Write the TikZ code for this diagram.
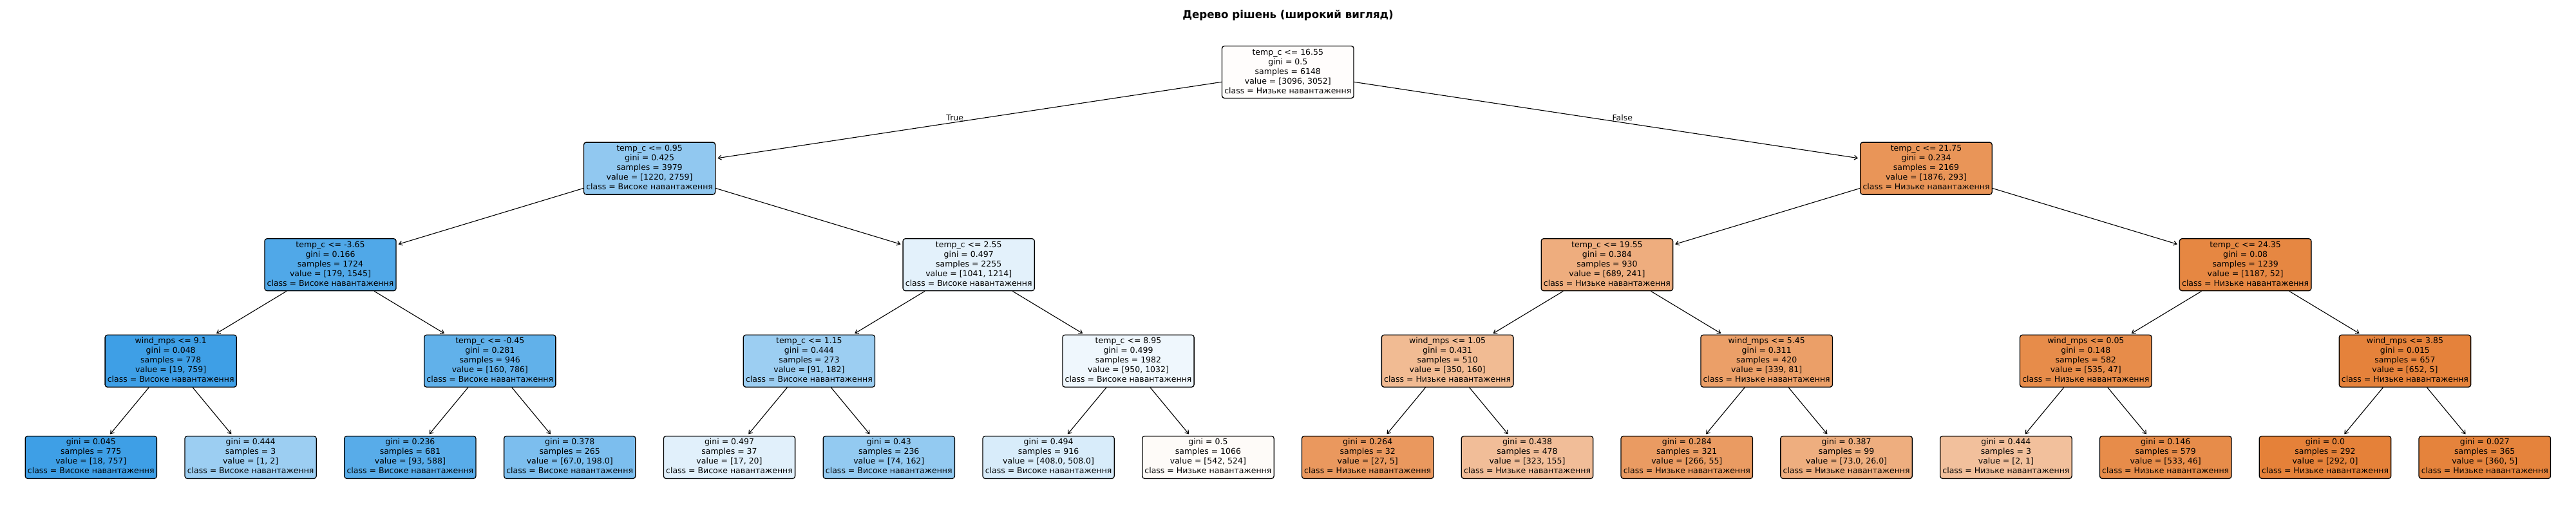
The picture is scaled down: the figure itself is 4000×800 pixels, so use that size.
\documentclass[tikz,border=0pt]{standalone}
\usepackage{fontspec}
\setmainfont{DejaVu Sans}
\usetikzlibrary{arrows.meta,calc}
\definecolor{tOr}{RGB}{229,129,57}
\definecolor{tBl}{RGB}{57,157,229}
\newcommand{\lo}{class = Низьке навантаження}
\newcommand{\hi}{class = Високе навантаження}
\tikzset{
  tnode/.style={draw=black, line width=1.3pt, rounded corners=3.75pt, align=center,
    inner xsep=3.75pt, inner ysep=3pt, font=\fontsize{12.5}{15}\selectfont},
  edge/.style={line width=1.1pt, -{Straight Barb[length=5pt,width=7pt]}, shorten >=3pt},
  tflabel/.style={font=\fontsize{12.5}{15}\selectfont, inner sep=0pt},
  ttl/.style={font=\fontsize{16.67}{20}\selectfont\bfseries, inner sep=0pt}
}
\begin{document}
\begin{tikzpicture}[x=1pt,y=-1pt]
\fill[white] (0,0) rectangle (4000,800);
\useasboundingbox (0,0) rectangle (4000,800);
\node[ttl] (title) at (2000,24) {Дерево рішень (широкий вигляд)};
% root
\node[tnode, fill=tOr!1.4!white] (n0) at (1999.8,112) {\strut temp\_c <= 16.55\\\strut gini = 0.5\\\strut samples = 6148\\\strut value = [3096, 3052]\\\strut \lo};
% level 1
\node[tnode, fill=tBl!55.8!white] (n1) at (1008.6,261.6) {\strut temp\_c <= 0.95\\\strut gini = 0.425\\\strut samples = 3979\\\strut value = [1220, 2759]\\\strut \hi};
\node[tnode, fill=tOr!84.4!white] (n2) at (2991.0,261.6) {\strut temp\_c <= 21.75\\\strut gini = 0.234\\\strut samples = 2169\\\strut value = [1876, 293]\\\strut \lo};
% level 2
\node[tnode, fill=tBl!88.4!white] (n3) at (513.0,411.2) {\strut temp\_c <= -3.65\\\strut gini = 0.166\\\strut samples = 1724\\\strut value = [179, 1545]\\\strut \hi};
\node[tnode, fill=tBl!14.3!white] (n4) at (1504.2,411.2) {\strut temp\_c <= 2.55\\\strut gini = 0.497\\\strut samples = 2255\\\strut value = [1041, 1214]\\\strut \hi};
\node[tnode, fill=tOr!65.0!white] (n5) at (2495.4,411.2) {\strut temp\_c <= 19.55\\\strut gini = 0.384\\\strut samples = 930\\\strut value = [689, 241]\\\strut \lo};
\node[tnode, fill=tOr!95.6!white] (n6) at (3486.6,411.2) {\strut temp\_c <= 24.35\\\strut gini = 0.08\\\strut samples = 1239\\\strut value = [1187, 52]\\\strut \lo};
% level 3
\node[tnode, fill=tBl!97.5!white] (n7) at (265.2,560.8) {\strut wind\_mps <= 9.1\\\strut gini = 0.048\\\strut samples = 778\\\strut value = [19, 759]\\\strut \hi};
\node[tnode, fill=tBl!79.6!white] (n8) at (760.8,560.8) {\strut temp\_c <= -0.45\\\strut gini = 0.281\\\strut samples = 946\\\strut value = [160, 786]\\\strut \hi};
\node[tnode, fill=tBl!50!white] (n9) at (1256.4,560.8) {\strut temp\_c <= 1.15\\\strut gini = 0.444\\\strut samples = 273\\\strut value = [91, 182]\\\strut \hi};
\node[tnode, fill=tBl!7.9!white] (n10) at (1752.0,560.8) {\strut temp\_c <= 8.95\\\strut gini = 0.499\\\strut samples = 1982\\\strut value = [950, 1032]\\\strut \hi};
\node[tnode, fill=tOr!54.3!white] (n11) at (2247.6,560.8) {\strut wind\_mps <= 1.05\\\strut gini = 0.431\\\strut samples = 510\\\strut value = [350, 160]\\\strut \lo};
\node[tnode, fill=tOr!76.1!white] (n12) at (2743.2,560.8) {\strut wind\_mps <= 5.45\\\strut gini = 0.311\\\strut samples = 420\\\strut value = [339, 81]\\\strut \lo};
\node[tnode, fill=tOr!91.2!white] (n13) at (3238.8,560.8) {\strut wind\_mps <= 0.05\\\strut gini = 0.148\\\strut samples = 582\\\strut value = [535, 47]\\\strut \lo};
\node[tnode, fill=tOr!99.2!white] (n14) at (3734.4,560.8) {\strut wind\_mps <= 3.85\\\strut gini = 0.015\\\strut samples = 657\\\strut value = [652, 5]\\\strut \lo};
% leaves
\node[tnode, fill=tBl!97.6!white] (l0) at (141.3,710.4) {\strut gini = 0.045\\\strut samples = 775\\\strut value = [18, 757]\\\strut \hi};
\node[tnode, fill=tBl!50!white] (l1) at (389.1,710.4) {\strut gini = 0.444\\\strut samples = 3\\\strut value = [1, 2]\\\strut \hi};
\node[tnode, fill=tBl!84.2!white] (l2) at (636.9,710.4) {\strut gini = 0.236\\\strut samples = 681\\\strut value = [93, 588]\\\strut \hi};
\node[tnode, fill=tBl!66.2!white] (l3) at (884.7,710.4) {\strut gini = 0.378\\\strut samples = 265\\\strut value = [67.0, 198.0]\\\strut \hi};
\node[tnode, fill=tBl!15!white] (l4) at (1132.5,710.4) {\strut gini = 0.497\\\strut samples = 37\\\strut value = [17, 20]\\\strut \hi};
\node[tnode, fill=tBl!54.3!white] (l5) at (1380.3,710.4) {\strut gini = 0.43\\\strut samples = 236\\\strut value = [74, 162]\\\strut \hi};
\node[tnode, fill=tBl!19.7!white] (l6) at (1628.1,710.4) {\strut gini = 0.494\\\strut samples = 916\\\strut value = [408.0, 508.0]\\\strut \hi};
\node[tnode, fill=tOr!3.3!white] (l7) at (1875.9,710.4) {\strut gini = 0.5\\\strut samples = 1066\\\strut value = [542, 524]\\\strut \lo};
\node[tnode, fill=tOr!81.5!white] (l8) at (2123.7,710.4) {\strut gini = 0.264\\\strut samples = 32\\\strut value = [27, 5]\\\strut \lo};
\node[tnode, fill=tOr!52!white] (l9) at (2371.5,710.4) {\strut gini = 0.438\\\strut samples = 478\\\strut value = [323, 155]\\\strut \lo};
\node[tnode, fill=tOr!79.3!white] (l10) at (2619.3,710.4) {\strut gini = 0.284\\\strut samples = 321\\\strut value = [266, 55]\\\strut \lo};
\node[tnode, fill=tOr!64.4!white] (l11) at (2867.1,710.4) {\strut gini = 0.387\\\strut samples = 99\\\strut value = [73.0, 26.0]\\\strut \lo};
\node[tnode, fill=tOr!50!white] (l12) at (3114.9,710.4) {\strut gini = 0.444\\\strut samples = 3\\\strut value = [2, 1]\\\strut \lo};
\node[tnode, fill=tOr!91.4!white] (l13) at (3362.7,710.4) {\strut gini = 0.146\\\strut samples = 579\\\strut value = [533, 46]\\\strut \lo};
\node[tnode, fill=tOr!100!white] (l14) at (3610.5,710.4) {\strut gini = 0.0\\\strut samples = 292\\\strut value = [292, 0]\\\strut \lo};
\node[tnode, fill=tOr!98.6!white] (l15) at (3858.3,710.4) {\strut gini = 0.027\\\strut samples = 365\\\strut value = [360, 5]\\\strut \lo};
% edges
\draw[edge] (n0) -- (n1);
\draw[edge] (n0) -- (n2);
\draw[edge] (n1) -- (n3);
\draw[edge] (n1) -- (n4);
\draw[edge] (n2) -- (n5);
\draw[edge] (n2) -- (n6);
\draw[edge] (n3) -- (n7);
\draw[edge] (n3) -- (n8);
\draw[edge] (n4) -- (n9);
\draw[edge] (n4) -- (n10);
\draw[edge] (n5) -- (n11);
\draw[edge] (n5) -- (n12);
\draw[edge] (n6) -- (n13);
\draw[edge] (n6) -- (n14);
\draw[edge] (n7) -- (l0);
\draw[edge] (n7) -- (l1);
\draw[edge] (n8) -- (l2);
\draw[edge] (n8) -- (l3);
\draw[edge] (n9) -- (l4);
\draw[edge] (n9) -- (l5);
\draw[edge] (n10) -- (l6);
\draw[edge] (n10) -- (l7);
\draw[edge] (n11) -- (l8);
\draw[edge] (n11) -- (l9);
\draw[edge] (n12) -- (l10);
\draw[edge] (n12) -- (l11);
\draw[edge] (n13) -- (l12);
\draw[edge] (n13) -- (l13);
\draw[edge] (n14) -- (l14);
\draw[edge] (n14) -- (l15);
% True / False
\node[tflabel, anchor=east] (tlab) at ($($(n0.center)!0.5!(n1.center)$)+(-8,-4)$) {True};
\node[tflabel, anchor=west] (flab) at ($($(n0.center)!0.5!(n2.center)$)+(8,-4)$) {False};
\end{tikzpicture}
\end{document}
